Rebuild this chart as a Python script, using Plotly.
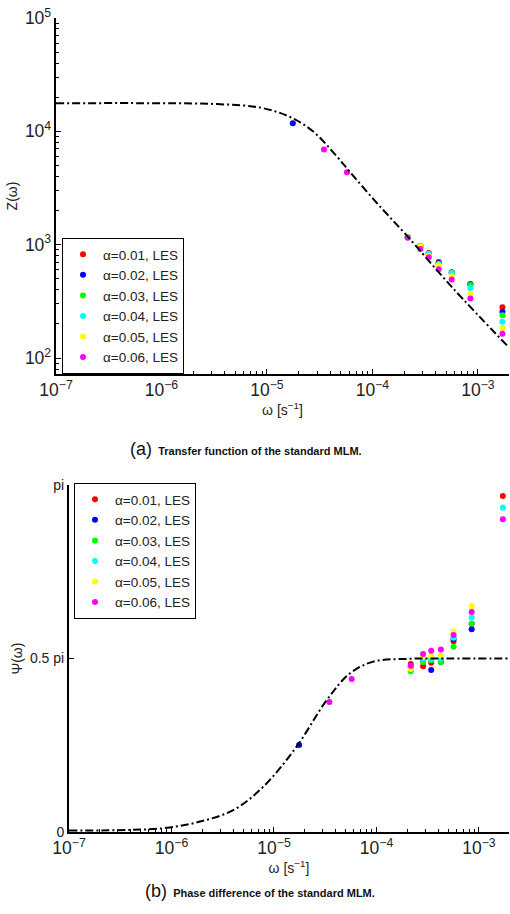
import plotly.graph_objects as go

# ---------------- data ----------------
labels = ["α=0.01, LES", "α=0.02, LES", "α=0.03, LES",
          "α=0.04, LES", "α=0.05, LES", "α=0.06, LES"]
colors = ["#ff0000", "#0000ff", "#00ff00", "#00ffff", "#ffff00", "#ff00ff"]

# forcing frequencies of the LES runs [1/s]
omega_les = [1.76e-5, 3.47e-5, 5.73e-5, 2.16e-4, 2.85e-4, 3.42e-4,
             4.25e-4, 5.65e-4, 8.49e-4, 1.71e-3]

# transfer function |Z| per run (None = no run at that frequency)
z_a01 = [None, None, None, 1160, 975, 840, 704, 570, 450, 280]
z_a02 = [1.18e4, None, None, 1160, 970, 835, 690, 566, 446, 256]
z_a03 = [None, None, None, 1170, 968, 830, 680, 562, 441, 239]
z_a04 = [None, None, None, 1165, 965, 828, 670, 563, 412, 209]
z_a05 = [None, None, None, 1160, 970, 800, 657, 526, 365, 184]
z_a06 = [None, 6.9e3, 4.36e3, 1150, 917, 773, 606, 492, 335, 164]

# phase difference per run, in units of pi
psi_a01 = [None, None, None, 0.484, 0.478, 0.488, 0.490, 0.550, 0.600, 0.968]
psi_a02 = [0.251, None, None, 0.475, 0.496, 0.467, 0.492, 0.556, 0.584, None]
psi_a03 = [None, None, None, 0.463, 0.490, 0.495, 0.490, 0.534, 0.601, None]
psi_a04 = [None, None, None, 0.475, 0.500, 0.499, 0.499, 0.560, 0.618, 0.935]
psi_a05 = [None, None, None, 0.470, 0.505, 0.507, 0.509, 0.578, 0.651, None]
psi_a06 = [None, 0.375, 0.441, 0.479, 0.513, 0.522, 0.526, 0.568, 0.634, 0.901]

z_runs = [z_a01, z_a02, z_a03, z_a04, z_a05, z_a06]
psi_runs = [psi_a01, psi_a02, psi_a03, psi_a04, psi_a05, psi_a06]

# standard MLM model curves
omega_mlm = [1e-7, 1e-6, 3.36e-6, 8.6e-6, 1.65e-5, 2.73e-5, 4.6e-5,
             6.1e-5, 1.08e-4, 2.09e-4, 5.77e-4, 1.97e-3]
z_mlm = [1.77e4, 1.77e4, 1.74e4, 1.62e4, 1.34e4, 1.0e4, 6.0e3,
         4.4e3, 2.38e3, 1.22e3, 415, 124]

omega_psi = [1e-7, 4e-7, 9e-7, 1.9e-6, 4e-6, 7.9e-6, 1.66e-5,
             3.27e-5, 5.5e-5, 9.3e-5, 2e-4, 5e-4, 1.97e-3]
psi_mlm = [0.004, 0.006, 0.012, 0.030, 0.063, 0.131, 0.246,
           0.380, 0.457, 0.491, 0.499, 0.500, 0.500]

# ---------------- figure ----------------
W, H = 510, 914
FONT = "Liberation Sans, Arial, sans-serif"
DASHDOT = "8px,3px,2px,3px"

fig = go.Figure()

for lab, col, zs in zip(labels, colors, z_runs):
    fig.add_trace(go.Scatter(
        x=omega_les, y=zs, mode="markers", name=lab,
        marker=dict(color=col, size=6, line=dict(width=0)),
        xaxis="x", yaxis="y", legend="legend"))
fig.add_trace(go.Scatter(
    x=omega_mlm, y=z_mlm, mode="lines", line_shape="spline",
    line=dict(color="black", width=2, dash=DASHDOT),
    showlegend=False, xaxis="x", yaxis="y"))

for lab, col, ps in zip(labels, colors, psi_runs):
    fig.add_trace(go.Scatter(
        x=omega_les, y=ps, mode="markers", name=lab,
        marker=dict(color=col, size=6, line=dict(width=0)),
        xaxis="x2", yaxis="y2", legend="legend2"))
fig.add_trace(go.Scatter(
    x=omega_psi, y=psi_mlm, mode="lines", line_shape="spline",
    line=dict(color="black", width=2, dash=DASHDOT),
    showlegend=False, xaxis="x2", yaxis="y2"))

axis_common = dict(
    showline=True, linecolor="black", linewidth=2, mirror=False,
    ticks="inside", ticklen=5, tickwidth=1, tickcolor="black",
    showgrid=False, zeroline=False, automargin=False,
    tickfont=dict(family=FONT, size=14, color="#222"),
)
minor_ticks = dict(ticks="inside", ticklen=3, tickcolor="black",
                   showgrid=False)
log_x = dict(axis_common, type="log", dtick=1, exponentformat="power",
             minor=minor_ticks)

legend_style = dict(xanchor="left", yanchor="middle",
                    bgcolor="white", bordercolor="black", borderwidth=1,
                    font=dict(family=FONT, size=13.5, color="#222"),
                    tracegroupgap=0)

fig.update_layout(
    width=W, height=H,
    margin=dict(l=0, r=0, t=0, b=0),
    paper_bgcolor="white", plot_bgcolor="white",
    font=dict(family=FONT, size=14, color="#222"),
    xaxis=dict(log_x, domain=[56 / W, 509 / W], range=[-7, -2.705],
               anchor="y",
               title=dict(text="ω [s<sup>−1</sup>]", standoff=2,
                          font=dict(size=14))),
    yaxis=dict(axis_common, type="log", dtick=1, exponentformat="power",
               domain=[1 - 374 / H, 1 - 18 / H], range=[1.859, 5],
               anchor="x", minor=minor_ticks,
               title=dict(text="Z(ω)", standoff=4, font=dict(size=14))),
    xaxis2=dict(log_x, domain=[69 / W, 509 / W], range=[-7, -2.707],
                anchor="y2",
                title=dict(text="ω [s<sup>−1</sup>]", standoff=2,
                           font=dict(size=14))),
    yaxis2=dict(axis_common, domain=[1 - 832 / H, 1 - 485 / H],
                range=[0, 1], anchor="x2",
                tickvals=[0, 0.5, 1], ticktext=["0", "0.5 pi", "pi"],
                title=dict(text="Ψ(ω)", standoff=4, font=dict(size=14))),
    legend=dict(legend_style, x=62 / W, y=1 - 306 / H),
    legend2=dict(legend_style, x=74 / W, y=1 - 551 / H),
    annotations=[
        dict(text="<span style='font-size:18px'>(a)</span>  "
                  "<b>Transfer function of the standard MLM.</b>",
             x=246 / W, y=1 - 449 / H, xref="paper", yref="paper",
             showarrow=False, font=dict(family=FONT, size=11, color="#111")),
        dict(text="<span style='font-size:18px'>(b)</span>  "
                  "<b>Phase difference of the standard MLM.</b>",
             x=260 / W, y=1 - 903 / H, xref="paper", yref="paper",
             showarrow=False, font=dict(family=FONT, size=11, color="#111")),
    ],
)

fig.write_html("out.html")
